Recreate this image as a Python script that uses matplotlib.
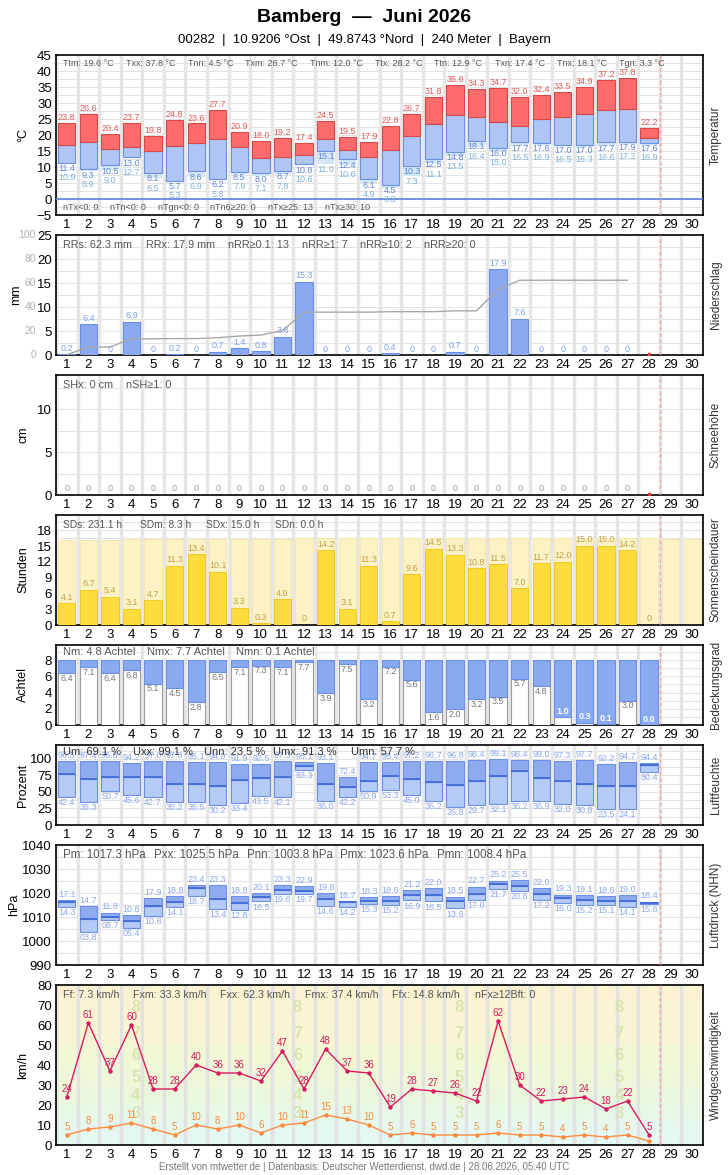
import numpy as np
import matplotlib
matplotlib.use("Agg")
import matplotlib.pyplot as plt
from matplotlib.transforms import blended_transform_factory

plt.rcParams['font.family'] = ['Liberation Sans', 'DejaVu Sans']

W, H = 728, 1175
L, R = 56, 703

days = list(range(1, 31))
d28 = np.arange(1, 29)
d27 = np.arange(1, 28)
today = 28

# Temperatur (°C)
t_max = [23.8, 26.6, 20.4, 23.7, 19.8, 24.8, 23.6, 27.7, 20.9, 18.0, 19.2, 17.4, 24.5, 19.5,
         17.9, 22.8, 26.7, 31.8, 35.6, 34.3, 34.7, 32.0, 32.4, 33.5, 34.9, 37.2, 37.8, 22.2]
t_mean = [17.0, 17.7, 15.6, 16.3, 15.0, 16.7, 17.4, 18.7, 16.1, 12.9, 13.0, 13.9, 18.9, 15.3,
          13.0, 15.2, 19.6, 23.3, 26.2, 25.5, 24.0, 22.7, 24.9, 25.5, 26.5, 27.7, 28.2, 19.2]
t_min = [11.4, 9.3, 10.5, 13.0, 8.1, 5.7, 8.6, 6.2, 8.5, 8.0, 8.7, 10.8, 15.1, 12.4,
         6.1, 4.5, 10.3, 12.5, 14.8, 18.1, 16.0, 17.7, 17.6, 17.0, 17.0, 17.7, 17.9, 17.6]
t_ground = [10.9, 8.9, 9.0, 12.7, 6.5, 5.3, 6.9, 5.8, 7.9, 7.1, 7.8, 10.6, 11.0, 10.6,
            4.9, 3.3, 7.3, 11.1, 13.5, 16.4, 15.0, 16.5, 16.9, 16.5, 16.3, 16.6, 17.2, 16.9]

# Niederschlag (mm), days 1-27
rain = [0.2, 6.4, 0, 6.9, 0, 0.2, 0, 0.7, 1.4, 0.8, 3.8, 15.3, 0, 0, 0, 0.4, 0, 0, 0.7, 0,
        17.9, 7.6, 0, 0, 0, 0, 0]

# Schneehöhe (cm), days 1-27
snow = [0, 0, 0, 0, 0, 0, 0, 0, 0, 0, 0, 0, 0, 0, 0, 0, 0, 0, 0, 0, 0, 0, 0, 0, 0, 0, 0]

# Sonnenscheindauer (h)
sun = [4.1, 6.7, 5.4, 3.1, 4.7, 11.3, 13.4, 10.1, 3.3, 0.3, 4.9, 0, 14.2, 3.1,
       11.3, 0.7, 9.6, 14.5, 13.3, 10.8, 11.5, 7.0, 11.7, 12.0, 15.0, 15.0, 14.2, 0]
sun_possible = [16.2, 16.2, 16.2, 16.3, 16.3, 16.3, 16.4, 16.4, 16.4, 16.4, 16.4, 16.5, 16.5, 16.5,
                16.5, 16.5, 16.5, 16.5, 16.5, 16.5, 16.5, 16.5, 16.5, 16.5, 16.5, 16.5, 16.5, 16.5,
                16.4, 16.4]

# Bedeckungsgrad (Achtel)
cloud = [6.4, 7.1, 6.4, 6.8, 5.1, 4.5, 2.8, 6.5, 7.1, 7.3, 7.1, 7.7, 3.9, 7.5,
         3.2, 7.2, 5.6, 1.6, 2.0, 3.2, 3.5, 5.7, 4.8, 1.0, 0.3, 0.1, 3.0, 0.0]

# Luftfeuchte (%)
hum_max = [96.5, 97.4, 96.8, 94.2, 97.0, 97.3, 95.1, 94.9, 91.9, 92.5, 97.3, 95.1, 93.1, 72.4,
           94.7, 95.4, 97.2, 96.7, 96.8, 98.4, 99.1, 98.4, 99.0, 97.3, 97.7, 92.2, 94.7, 94.4]
hum_mean = [76.9, 70.2, 73.3, 73.3, 73.3, 62.5, 61.5, 59.4, 67.7, 71.8, 73.3, 89.2, 61.5, 57.7,
            67.1, 74.8, 69.2, 64.6, 60.0, 66.1, 73.8, 81.5, 70.7, 66.1, 61.5, 58.4, 58.4, 91.3]
hum_min = [42.4, 35.3, 50.7, 45.6, 42.7, 35.2, 35.5, 30.2, 33.4, 43.5, 42.1, 83.3, 36.0, 42.2,
           50.9, 53.3, 45.0, 36.2, 26.8, 29.7, 32.1, 36.2, 36.9, 32.0, 30.8, 23.5, 24.1, 80.4]

# Luftdruck (hPa)
p_max = [1017.1, 1014.7, 1011.8, 1010.8, 1017.9, 1018.8, 1023.4, 1023.3, 1018.8, 1020.1, 1023.3,
         1022.9, 1019.8, 1016.7, 1018.3, 1018.6, 1021.2, 1022.0, 1018.5, 1022.7, 1025.2, 1025.5,
         1022.0, 1019.3, 1019.1, 1018.6, 1019.0, 1016.4]
p_mean = [1016.3, 1009.0, 1010.1, 1008.4, 1014.4, 1016.3, 1021.9, 1017.4, 1015.7, 1018.2, 1021.1,
          1020.8, 1017.4, 1016.1, 1016.7, 1016.8, 1019.0, 1019.2, 1016.7, 1019.6, 1023.6, 1023.0,
          1019.4, 1017.9, 1016.9, 1016.8, 1016.8, 1016.0]
p_min = [1014.3, 1003.8, 1008.7, 1005.4, 1010.6, 1014.1, 1018.7, 1013.4, 1012.8, 1016.5, 1019.6,
         1019.7, 1014.6, 1014.2, 1015.3, 1015.2, 1016.9, 1016.5, 1013.6, 1017.0, 1021.7, 1020.8,
         1017.2, 1016.0, 1015.2, 1015.1, 1014.1, 1015.6]

# Wind (km/h)
gust = [24, 61, 37, 60, 28, 28, 40, 36, 36, 32, 47, 28, 48, 37, 36, 19, 28, 27, 26, 22,
        62, 30, 22, 23, 24, 18, 22, 5]
wind = [5, 8, 9, 11, 8, 5, 10, 8, 10, 6, 10, 11, 15, 13, 10, 5, 6, 5, 5, 5,
        6, 5, 5, 4, 5, 4, 5, 2]
bft_edges = [0, 1, 6, 12, 20, 29, 39, 50, 62, 75, 89]
bft_colors = ['#e4f8f6', '#e4f8f4', '#e5f8ef', '#e8f8e6', '#ebf7dd', '#eef7d8',
              '#f2f7d4', '#f7f5d2', '#faf4d2', '#fcf2d2']

BLUE_FILL = '#aec5f5'
BLUE_DARK = '#8eabf0'
BLUE_EDGE = '#6b90e6'
BLUE_TXT = '#7d9ef0'
GRAY_TXT = '#555555'
LAB = 6.5

fig = plt.figure(figsize=(W / 100, H / 100), dpi=100)


def panel(top, bottom, ylim, yticks, ylabel, rlabel, hgrid, vcolor='#e6e6e6', label_x=29):
    ax = fig.add_axes([L / W, (H - bottom) / H, (R - L) / W, (bottom - top) / H])
    ax.set_xlim(0.5, 30.5)
    ax.set_ylim(*ylim)
    ax.set_yticks(yticks)
    ax.set_xticks(days)
    ax.set_xticklabels([str(d) for d in days])
    ax.tick_params(length=0, labelsize=9.5, pad=3)
    for b in np.arange(0.5, 31):
        ax.axvline(b, color=vcolor, lw=2.5, zorder=0.5)
    for y in hgrid:
        ax.axhline(y, color='#e2e2e2', lw=0.7, zorder=0.4)
    ax.axvline(28.5, color='#f3a3a3', lw=0.9, ls=(0, (3, 2)), zorder=5)
    for s in ax.spines.values():
        s.set_linewidth(1.2)
    ax.set_ylabel(ylabel, fontsize=9)
    ax.yaxis.set_label_coords((label_x - L) / (R - L), 0.5)
    ax.text(1 + 13 / (R - L), 0.5, rlabel, rotation=90, transform=ax.transAxes,
            ha='center', va='center', fontsize=8.5, color='#333333')
    return ax


def stats(items, xs, ypx, **kw):
    opts = dict(fontsize=7.8, color=GRAY_TXT, ha='left', va='center')
    opts.update(kw)
    for t, x in zip(items, xs):
        fig.text(x / W, 1 - ypx / H, t, **opts)


# ---------- Temperatur ----------
ax = panel(55, 215, (-5, 45), range(-5, 46, 5), '°C', 'Temperatur', np.arange(-5, 45, 2.5))
tx, tm, tn, tg = map(np.array, (t_max, t_mean, t_min, t_ground))
ax.bar(d28, tn - tg, bottom=tg, width=0.8, color='#d3e7f6', lw=0, zorder=2)
ax.bar(d28, tm - tn, bottom=tn, width=0.8, color=BLUE_FILL, edgecolor=BLUE_EDGE, lw=0.8, zorder=3)
ax.bar(d28, tx - tm, bottom=tm, width=0.8, color='#ff6b6b', edgecolor='#d24a4a', lw=0.8, zorder=3)
ax.axhline(0, color='#5b84e0', lw=1.2, zorder=4)
for d, a, b, c in zip(d28, tx, tn, tg):
    ax.text(d, a + 1.7, f'{a:.1f}', ha='center', va='center', fontsize=LAB, color='#e05a5a', zorder=6)
    yn = b - 1.8
    yg = min(c - 1.9, yn - 2.9)
    ax.text(d, yn, f'{b:.1f}', ha='center', va='center', fontsize=LAB, color='#5f86e0', zorder=6)
    ax.text(d, yg, f'{c:.1f}', ha='center', va='center', fontsize=LAB, color='#7fb2da', zorder=6)
stats(['Ttm: 19.6 °C', 'Txx: 37.8 °C', 'Tnn: 4.5 °C', 'Txm: 26.7 °C', 'Tnm: 12.0 °C',
       'Ttx: 28.2 °C', 'Ttn: 12.9 °C', 'Txn: 17.4 °C', 'Tnx: 18.1 °C', 'Tgn: 3.3 °C'],
      [63, 126, 188, 245, 310, 375, 434, 495, 557, 619], 64, fontsize=6.5)
stats(['nTx<0: 0', 'nTn<0: 0', 'nTgn<0: 0', 'nTn6≥20: 0', 'nTx≥25: 13', 'nTx≥30: 10'],
      [63, 110, 158, 210, 268, 325], 208, fontsize=6.5)

# ---------- Niederschlag ----------
ax = panel(235, 355, (0, 25), range(0, 26, 5), 'mm', 'Niederschlag', np.arange(0, 25, 2.5), label_x=22)
ax.bar(d27, rain, width=0.8, color='#8aa9f0', edgecolor=BLUE_EDGE, lw=0.8, zorder=3)
for d, v in zip(d27, rain):
    lab = '0' if v == 0 else f'{v:.1f}'
    ax.text(d, v + 0.3, lab, ha='center', va='bottom', fontsize=LAB, color=BLUE_TXT, zorder=6)
cum = np.cumsum(rain)
ax.plot(d27, cum * 0.25, color='#a8a8a8', lw=1, zorder=4)
ax.plot(today, 0.15, 's', ms=1.8, color='#e53935', zorder=6)
tr = blended_transform_factory(ax.transAxes, ax.transData)
for v in range(0, 101, 20):
    ax.text((36 - L) / (R - L), v * 0.25, str(v), transform=tr, ha='right', va='center',
            fontsize=7.5, color='#b0b0b0')
stats(['RRs: 62.3 mm', 'RRx: 17.9 mm', 'nRR≥0.1: 13', 'nRR≥1: 7', 'nRR≥10: 2', 'nRR≥20: 0'],
      [63, 146, 228, 302, 360, 424], 245)

# ---------- Schneehöhe ----------
ax = panel(375, 495, (0, 14), [0, 5, 10], 'cm', 'Schneehöhe', np.arange(0, 14, 2.5))
ax.bar(d27, snow, width=0.8, color='#dfe6f5', zorder=3)
for d, v in zip(d27, snow):
    ax.text(d, v + 0.2, f'{v}', ha='center', va='bottom', fontsize=LAB, color='#9a9a9a', zorder=6)
ax.plot(today, 0.1, 's', ms=1.8, color='#e53935', zorder=6)
stats(['SHx: 0 cm', 'nSH≥1: 0'], [63, 126], 385)

# ---------- Sonnenscheindauer ----------
ax = panel(515, 625, (0, 20.9), range(0, 19, 3), 'Stunden', 'Sonnenscheindauer', np.arange(0, 21, 1.5))
ax.bar(days, sun_possible, width=0.8, color='#fdf2c4', edgecolor='#f8e6a6', lw=0.6, zorder=2)
ax.bar(d28, sun, width=0.8, color='#fddc3c', edgecolor='#f3c41c', lw=0.6, zorder=3)
for d, v in zip(d28, sun):
    lab = '0' if v == 0 else f'{v:.1f}'
    ax.text(d, v + 0.3, lab, ha='center', va='bottom', fontsize=LAB, color='#c2a34e', zorder=6)
stats(['SDs: 231.1 h', 'SDm: 8.3 h', 'SDx: 15.0 h', 'SDn: 0.0 h'], [63, 140, 206, 275], 525, fontsize=7.4)

# ---------- Bedeckungsgrad ----------
ax = panel(645, 725, (0, 9.85), range(0, 9, 2), 'Achtel', 'Bedeckungsgrad', np.arange(0, 9.5, 1))
cl = np.array(cloud)
ax.bar(d28, cl, width=0.8, color='white', edgecolor='#9c9c9c', lw=0.8, zorder=3)
ax.bar(d28, 8 - cl, bottom=cl, width=0.8, color='#8aaaf0', edgecolor=BLUE_EDGE, lw=0.8, zorder=3)
for d, v in zip(d28, cl):
    if v <= 1.0:
        ax.text(d, v + 0.7, f'{v:.1f}', ha='center', va='center', fontsize=LAB, color='white',
                fontweight='bold', zorder=6)
    else:
        ax.text(d, v - 0.65, f'{v:.1f}', ha='center', va='center', fontsize=LAB, color='#777777', zorder=6)
stats(['Nm: 4.8 Achtel', 'Nmx: 7.7 Achtel', 'Nmn: 0.1 Achtel'], [63, 147, 236], 652,
      fontsize=8, bbox=dict(fc='white', ec='none', pad=0.5))

# ---------- Luftfeuchte ----------
ax = panel(745, 825, (0, 121), range(0, 101, 25), 'Prozent', 'Luftfeuchte', np.arange(0, 121, 12.5))
hx, hm, hn = map(np.array, (hum_max, hum_mean, hum_min))
ax.bar(d28, hm - hn, bottom=hn, width=0.8, color='#b5cbf7', edgecolor=BLUE_EDGE, lw=0.8, zorder=3)
ax.bar(d28, hx - hm, bottom=hm, width=0.8, color=BLUE_DARK, edgecolor=BLUE_EDGE, lw=0.8, zorder=3)
ax.hlines(hm, d28 - 0.4, d28 + 0.4, color='#3f66d6', lw=1.2, zorder=4)
for d, a, b in zip(d28, hx, hn):
    ax.text(d, a + 1.5, f'{a:.1f}', ha='center', va='bottom', fontsize=LAB, color='#8ca8f0', zorder=6)
    ax.text(d, b - 1.5, f'{b:.1f}', ha='center', va='top', fontsize=LAB, color='#8ca8f0', zorder=6)
stats(['Um: 69.1 %', 'Uxx: 99.1 %', 'Unn: 23.5 %', 'Umx: 91.3 %', 'Umn: 57.7 %'],
      [63, 133, 204, 273, 351], 752, fontsize=8, color='#333333')

# ---------- Luftdruck ----------
ax = panel(845, 965, (990, 1040), range(990, 1041, 10), 'hPa', 'Luftdruck (NHN)', np.arange(990, 1040, 5),
           label_x=20)
px_, pm_, pn_ = map(np.array, (p_max, p_mean, p_min))
ax.bar(d28, pm_ - pn_, bottom=pn_, width=0.8, color='#b5cbf7', edgecolor=BLUE_EDGE, lw=0.8, zorder=3)
ax.bar(d28, px_ - pm_, bottom=pm_, width=0.8, color=BLUE_DARK, edgecolor=BLUE_EDGE, lw=0.8, zorder=3)
ax.hlines(pm_, d28 - 0.4, d28 + 0.4, color='#3f66d6', lw=1.2, zorder=4)
for d, a, b in zip(d28, px_, pn_):
    ax.text(d, a + 0.5, f'{a - 1000:04.1f}', ha='center', va='bottom', fontsize=LAB, color='#8ca8f0', zorder=6)
    ax.text(d, b - 0.5, f'{b - 1000:04.1f}', ha='center', va='top', fontsize=LAB, color='#8ca8f0', zorder=6)
stats(['Pm: 1017.3 hPa', 'Pxx: 1025.5 hPa', 'Pnn: 1003.8 hPa', 'Pmx: 1023.6 hPa', 'Pmn: 1008.4 hPa'],
      [63, 154, 247, 340, 437], 855, fontsize=8.3)

# ---------- Windgeschwindigkeit ----------
ax = panel(985, 1145, (0, 80), range(0, 81, 10), 'km/h', 'Windgeschwindigkeit', [], vcolor='#e2e2e2')
for lo, hi, c in zip(bft_edges[:-1], bft_edges[1:], bft_colors):
    ax.axhspan(lo, hi, color=c, lw=0, zorder=0.1)
for col in [4.2, 11.7, 19.2, 26.6]:
    for b in range(3, 9):
        mid = (bft_edges[b] + bft_edges[b + 1]) / 2
        ax.text(col, mid, str(b), ha='center', va='center', fontsize=12, fontweight='bold',
                color='#d3e0a6', alpha=0.8, zorder=0.6, clip_on=True)
ax.plot(d28, gust, color='#d81b60', lw=1, marker='o', ms=2.2, zorder=5)
ax.plot(d28, wind, color='#ff8a3d', lw=1, marker='o', ms=2.2, zorder=5)
for d, g, f in zip(d28, gust, wind):
    ax.text(d, g + 1.5, str(g), ha='center', va='bottom', fontsize=7, color='#d81b60', zorder=6)
    if d < today:
        ax.text(d, f + 1.5, str(f), ha='center', va='bottom', fontsize=7, color='#ff8a3d', zorder=6)
stats(['Ff: 7.3 km/h', 'Fxm: 33.3 km/h', 'Fxx: 62.3 km/h', 'Fmx: 37.4 km/h', 'Ffx: 14.8 km/h',
       'nFx≥12Bft: 0'], [63, 133, 220, 305, 392, 475], 995, fontsize=7.7)

# ---------- Titel / Fußzeile ----------
fig.text(0.5, 1 - 18 / H, 'Bamberg  —  Juni 2026', ha='center', va='center', fontsize=14, fontweight='bold')
fig.text(0.5, 1 - 40 / H, '00282  |  10.9206 °Ost  |  49.8743 °Nord  |  240 Meter  |  Bayern',
         ha='center', va='center', fontsize=9.5)
fig.text(0.5, 1 - 1167 / H,
         'Erstellt von mtwetter.de | Datenbasis: Deutscher Wetterdienst, dwd.de | 28.06.2026, 05:40 UTC',
         ha='center', va='center', fontsize=7, color='#777777')

fig.savefig('out.png', dpi=100)
